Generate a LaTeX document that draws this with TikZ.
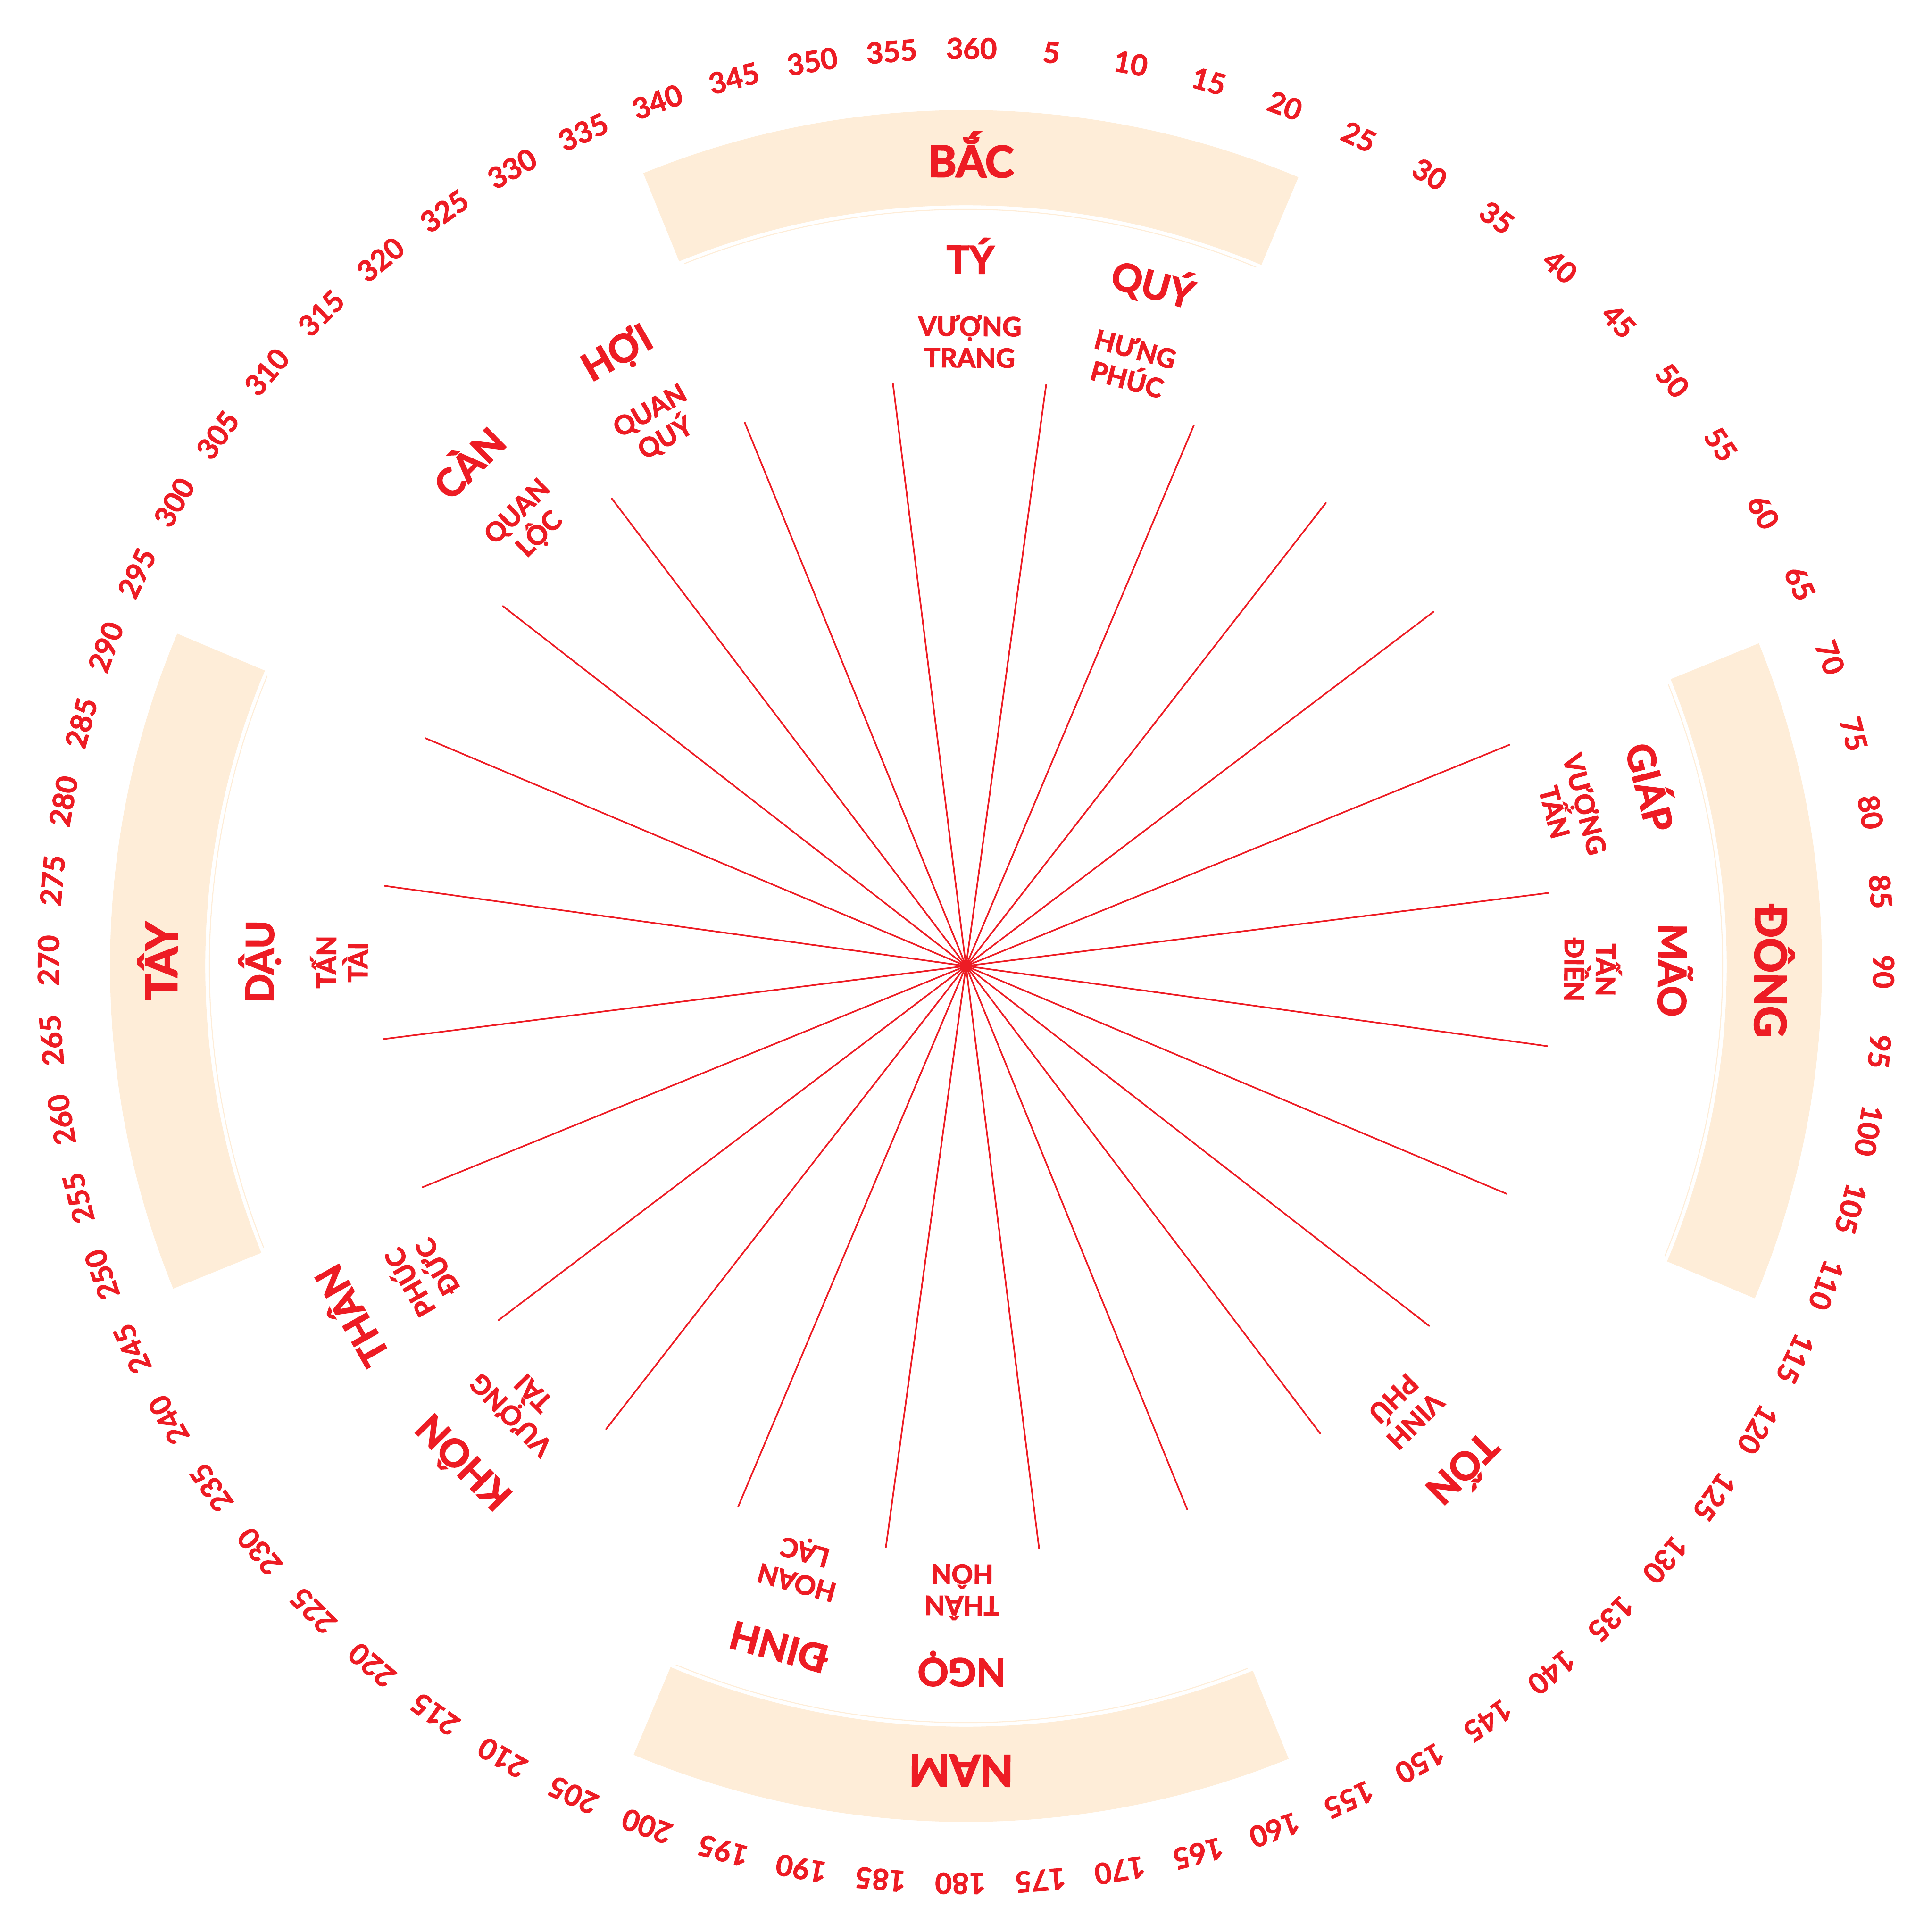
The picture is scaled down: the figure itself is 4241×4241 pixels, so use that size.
\documentclass[tikz,border=0pt]{standalone}
\usepackage{fontspec}
\setmainfont{Lato}
\definecolor{cred}{RGB}{237,28,36}
\definecolor{cband}{RGB}{254,237,216}
\begin{document}
\begin{tikzpicture}[x=1pt,y=1pt,
  band/.style={fill=cband,draw=none},
  bandline/.style={draw=cband,line width=2.2},
  ray/.style={draw=cred,line width=3.5,line cap=round},
  deg/.style={text=cred,inner sep=0,anchor=base,font=\fontsize{64}{70}\selectfont\bfseries\addfontfeature{FakeBold=1.5}},
  dirtxt/.style={text=cred,inner sep=0,anchor=base,font=\fontsize{95}{100}\selectfont\bfseries\addfontfeature{FakeBold=3}},
  mtn/.style={text=cred,inner sep=0,anchor=base,font=\fontsize{84}{90}\selectfont\bfseries\addfontfeature{FakeBold=2.5}},
  fort/.style={text=cred,inner sep=0,anchor=base,font=\fontsize{58}{64}\selectfont\bfseries\addfontfeature{FakeBold=2.5}}]
\def\rot{0.35}
\useasboundingbox (-2120.5,-2120.5) rectangle (2120.5,2120.5);
% bands
\foreach \b in {0,90,180,270}{
  \fill[band] ({90-\b-\rot+22.5}:1879) arc[start angle={90-\b-\rot+22.5}, end angle={90-\b-\rot-22.5}, radius=1879]
    -- ({90-\b-\rot-22.5}:1670) arc[start angle={90-\b-\rot-22.5}, end angle={90-\b-\rot+22.5}, radius=1670] -- cycle;
  \draw[bandline] ({90-\b-\rot+22.2}:1661) arc[start angle={90-\b-\rot+22.2}, end angle={90-\b-\rot-22.2}, radius=1661];
}
% rays
\coordinate (c) at (0,0);
\foreach \i in {0,...,23}{
  \coordinate (e\i) at ({90-7.5-15*\i-\rot}:1288);
  \draw[ray] (c) -- (e\i);
}
\fill[cred] (c) circle[radius=12];
% degree numbers
\foreach \n in {5,10,...,360}{
  \node[deg,rotate={-\n-\rot}] (n\n) at ({90-\n-\rot}:1991) {\n};
}
% direction labels
\foreach \b/\t in {0/BẮC,90/ĐÔNG,180/NAM,270/TÂY}{
  \node[dirtxt,rotate={-\b-\rot}] (d\b) at ({90-\b-\rot}:1732) {\t};
}
% mountains and fortunes
\foreach \b/\nm/\la/\lb in {0/TÝ/VƯỢNG/TRANG,15/QUÝ/HƯNG/PHÚC,75/GIÁP/VƯỢNG/TẤN,90/MÃO/TẤN/ĐIỀN,135/TỐN/VINH/PHÚ,180/NGỌ/THÂN/HÔN,195/ĐINH/HOAN/LẠC,225/KHÔN/VƯỢNG/TÀI,240/THÂN/PHÚC/ĐỨC,270/DẬU/TẤN/TÀI,315/CÀN/QUAN/LỘC,330/HỢI/QUAN/QUÝ}{
  \node[mtn,rotate={-\b-\rot}] (m\b) at ({90-\b-\rot}:1520) {\nm};
  \node[fort,rotate={-\b-\rot}] (fa\b) at ({90-\b-\rot}:1383) {\la};
  \node[fort,rotate={-\b-\rot}] (fb\b) at ({90-\b-\rot}:1314) {\lb};
}
\end{tikzpicture}
\end{document}
